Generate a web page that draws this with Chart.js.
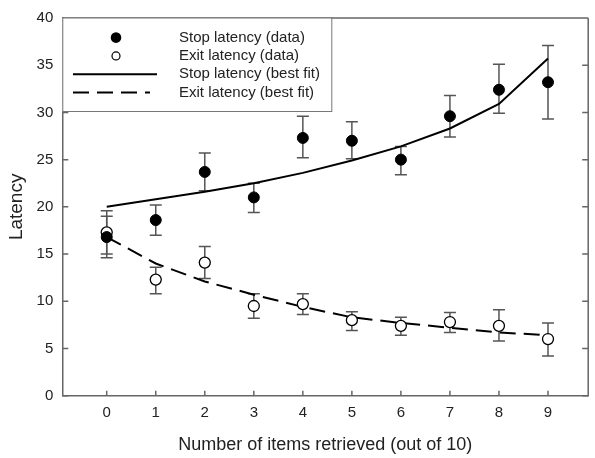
<!DOCTYPE html>
<html lang="en">
<head>
<meta charset="UTF-8">
<script src="https://cdn.jsdelivr.net/npm/chart.js"></script>
<title>Stop and exit latency</title>
<style>
  html, body { margin: 0; padding: 0; background: #fff; }
  #plot { width: 595px; height: 458px; }
</style>
</head>
<body>
<div id="plot"><canvas id="myChart"></canvas></div>
<script>
// values
const items = [0, 1, 2, 3, 4, 5, 6, 7, 8, 9];
const stopMean = [16.8, 18.6, 23.7, 21.0, 27.3, 27.0, 25.0, 29.6, 32.4, 33.2];
const stopLow  = [14.6, 17.0, 21.7, 19.4, 25.2, 25.1, 23.4, 27.4, 29.9, 29.3];
const stopHigh = [19.0, 20.2, 25.7, 22.5, 29.6, 29.0, 26.4, 31.8, 35.1, 37.1];
const exitMean = [17.3, 12.3, 14.1, 9.5, 9.7, 8.0, 7.4, 7.8, 7.4, 6.0];
const exitLow  = [15.0, 10.8, 12.4, 8.2, 8.6, 6.9, 6.4, 6.7, 5.8, 4.2];
const exitHigh = [19.6, 13.6, 15.8, 10.8, 10.8, 8.9, 8.3, 8.8, 9.1, 7.7];
const stopFit  = [20.0, 20.8, 21.6, 22.5, 23.6, 24.9, 26.4, 28.3, 30.9, 35.7];
const exitFit  = [16.8, 14.0, 12.1, 10.7, 9.4, 8.3, 7.7, 7.2, 6.7, 6.4];
const yTicks = [0, 5, 10, 15, 20, 25, 30, 35, 40];

const legendItems = [
  { label: 'Stop latency (data)', kind: 'filled' },
  { label: 'Exit latency (data)', kind: 'open' },
  { label: 'Stop latency (best fit)', kind: 'solid' },
  { label: 'Exit latency (best fit)', kind: 'dashed' },
];

const FONT = '"Liberation Sans", Arial, sans-serif';
const TEXT = '#222';
const AXIS = '#666';

function pts(ys) {
  return items.map((x, i) => ({ x: x, y: ys[i] }));
}

// error bars drawn under the markers
const errorBars = {
  id: 'errorBars',
  beforeDatasetsDraw(chart) {
    const ctx = chart.ctx;
    const xs = chart.scales.x, ys = chart.scales.y;
    ctx.save();
    ctx.strokeStyle = '#555';
    ctx.lineWidth = 1.5;
    chart.data.datasets.forEach(ds => {
      if (!ds.errLow) return;
      items.forEach((x, i) => {
        const px = xs.getPixelForValue(x);
        const y1 = ys.getPixelForValue(ds.errLow[i]);
        const y2 = ys.getPixelForValue(ds.errHigh[i]);
        ctx.beginPath();
        ctx.moveTo(px, y1); ctx.lineTo(px, y2);
        ctx.moveTo(px - 6, y1); ctx.lineTo(px + 6, y1);
        ctx.moveTo(px - 6, y2); ctx.lineTo(px + 6, y2);
        ctx.stroke();
      });
    });
    ctx.restore();
  }
};

// inward tick marks, top frame line and the boxed legend
const frame = {
  id: 'frame',
  afterDraw(chart) {
    const ctx = chart.ctx;
    const a = chart.chartArea;
    const xs = chart.scales.x, ys = chart.scales.y;
    ctx.save();
    ctx.strokeStyle = AXIS;
    ctx.lineWidth = 1.5;
    ctx.beginPath();
    ctx.moveTo(a.left, a.top); ctx.lineTo(a.right, a.top);
    ctx.moveTo(a.right, a.top); ctx.lineTo(a.right, a.bottom);
    items.forEach(x => {
      const px = xs.getPixelForValue(x);
      ctx.moveTo(px, a.bottom); ctx.lineTo(px, a.bottom - 5);
    });
    yTicks.forEach(v => {
      const py = ys.getPixelForValue(v);
      ctx.moveTo(a.left, py); ctx.lineTo(a.left + 6, py);
      ctx.moveTo(a.right, py); ctx.lineTo(a.right - 6, py);
    });
    ctx.stroke();

    // legend box
    const bx = a.left, by = a.top, bw = 269, bh = 93.5;
    ctx.fillStyle = '#fff';
    ctx.fillRect(bx, by, bw, bh);
    ctx.strokeStyle = '#777';
    ctx.lineWidth = 1;
    ctx.strokeRect(bx + 0.5, by, bw, bh);

    ctx.font = '15px ' + FONT;
    ctx.textBaseline = 'middle';
    ctx.textAlign = 'left';
    legendItems.forEach((it, i) => {
      const cy = by + 19.6 + i * 18.3;
      const sx = 116;
      ctx.strokeStyle = '#000';
      ctx.fillStyle = '#000';
      if (it.kind === 'filled') {
        ctx.beginPath(); ctx.arc(sx, cy, 5.3, 0, Math.PI * 2); ctx.fill();
      } else if (it.kind === 'open') {
        ctx.lineWidth = 1.2;
        ctx.beginPath(); ctx.arc(sx, cy, 4, 0, Math.PI * 2); ctx.stroke();
      } else {
        ctx.lineWidth = 2;
        ctx.setLineDash(it.kind === 'dashed' ? [16, 8] : []);
        ctx.beginPath(); ctx.moveTo(73, cy); ctx.lineTo(it.kind === 'dashed' ? 150 : 157, cy); ctx.stroke();
        ctx.setLineDash([]);
      }
      ctx.fillStyle = TEXT;
      ctx.fillText(it.label, 179, cy);
    });
    ctx.restore();
  }
};

const ctx = document.getElementById('myChart').getContext('2d');
const myChart = new Chart(ctx, {
  type: 'scatter',
  data: {
    datasets: [
      {
        label: 'Stop latency (data)',
        data: pts(stopMean),
        errLow: stopLow, errHigh: stopHigh,
        pointRadius: 5.5,
        pointBackgroundColor: '#000',
        pointBorderColor: '#000',
        pointBorderWidth: 1,
        showLine: false,
      },
      {
        label: 'Exit latency (data)',
        data: pts(exitMean),
        errLow: exitLow, errHigh: exitHigh,
        pointRadius: 5.5,
        pointBackgroundColor: '#fff',
        pointBorderColor: '#000',
        pointBorderWidth: 1.3,
        showLine: false,
      },
      {
        label: 'Stop latency (best fit)',
        data: pts(stopFit),
        showLine: true,
        borderColor: '#000',
        borderWidth: 2,
        pointRadius: 0,
        tension: 0,
      },
      {
        label: 'Exit latency (best fit)',
        data: pts(exitFit),
        showLine: true,
        borderColor: '#000',
        borderWidth: 2,
        borderDash: [16, 8],
        pointRadius: 0,
        tension: 0,
      },
    ],
  },
  options: {
    responsive: true,
    maintainAspectRatio: false,
    animation: false,
    events: [],
    layout: { padding: { top: 13, right: 0, left: 0, bottom: 0 } },
    plugins: { legend: { display: false }, tooltip: { enabled: false } },
    scales: {
      x: {
        type: 'linear',
        min: -0.906,
        max: 9.82,
        afterFit: s => { s.height = 62.3; },
        afterBuildTicks: s => { s.ticks = items.map(v => ({ value: v })); },
        grid: { display: false, drawTicks: false },
        border: { display: true, color: AXIS, width: 1.5 },
        ticks: { color: TEXT, padding: 8, font: { size: 15, family: FONT }, maxRotation: 0 },
        title: {
          display: true,
          text: 'Number of items retrieved (out of 10)',
          color: TEXT,
          font: { size: 18, family: FONT },
          padding: { top: 0, bottom: 2 },
        },
      },
      y: {
        min: 0,
        max: 40,
        afterFit: s => { s.width = 62.3; },
        afterBuildTicks: s => { s.ticks = yTicks.map(v => ({ value: v })); },
        grid: { display: false, drawTicks: false },
        border: { display: true, color: AXIS, width: 1.5 },
        ticks: { color: TEXT, padding: 9, font: { size: 15, family: FONT } },
        title: {
          display: true,
          text: 'Latency',
          color: TEXT,
          font: { size: 19, family: FONT },
          padding: { top: 5.5, bottom: 0 },
        },
      },
    },
  },
  plugins: [errorBars, frame],
});
</script>
</body>
</html>
